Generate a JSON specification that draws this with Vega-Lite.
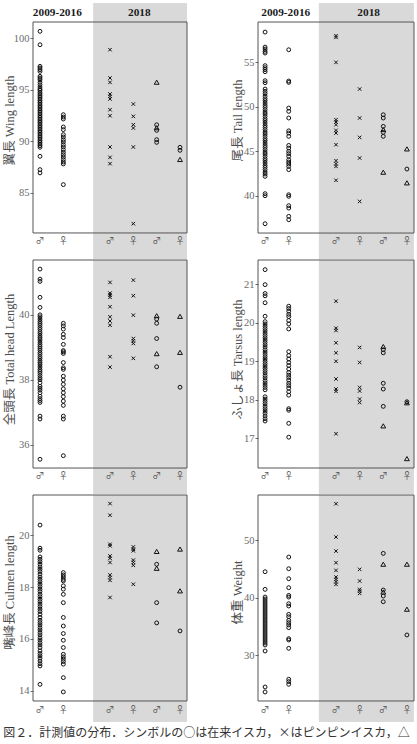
{
"$schema": "https://vega.github.io/schema/vega-lite/v6.json",
"padding": {"left": 3, "top": 3, "right": 0, "bottom": 0},
"title": {"text": "図２．計測値の分布．シンボルの○は在来イスカ，×はピンピンイスカ，△", "orient": "bottom", "anchor": "start", "baseline": "top", "offset": 6, "font": "Noto Sans CJK JP", "fontSize": 12, "fontWeight": "normal", "color": "#333"},
"spacing": 43,
"config": {
  "view": {"stroke": null},
  "axisY": {"domain": false, "grid": false, "tickSize": 3, "labelPadding": 1, "tickColor": "#6b6b6b", "labelColor": "#6b6b6b", "labelFont": "Liberation Serif", "labelFontSize": 10.5, "titleFont": "Liberation Serif, Noto Sans CJK JP", "titleFontSize": 12.5, "titleFontWeight": "normal", "titleColor": "#4d4d4d", "titleBaseline": "middle"}
},
"datasets": {
"labs": [{"g":"A♂","t":"♂"},{"g":"A♀","t":"♀"},{"g":"B♂","t":"♂"},{"g":"B♀","t":"♀"},{"g":"C♂","t":"♂"},{"g":"C♀","t":"♀"}],
"wing": [
{"g":"A♂","s":"o","v":100.65},{"g":"A♂","s":"o","v":99.35},{"g":"A♂","s":"o","v":97.26},{"g":"A♂","s":"o","v":97.1},{"g":"A♂","s":"o","v":96.94},{"g":"A♂","s":"o","v":96.77},{"g":"A♂","s":"o","v":96.29},{"g":"A♂","s":"o","v":96.13},{"g":"A♂","s":"o","v":95.97},{"g":"A♂","s":"o","v":95.71},{"g":"A♂","s":"o","v":95.48},{"g":"A♂","s":"o","v":95.26},{"g":"A♂","s":"o","v":95.06},{"g":"A♂","s":"o","v":94.94},{"g":"A♂","s":"o","v":94.74},{"g":"A♂","s":"o","v":94.58},{"g":"A♂","s":"o","v":94.42},{"g":"A♂","s":"o","v":94.26},{"g":"A♂","s":"o","v":94.1},{"g":"A♂","s":"o","v":93.94},{"g":"A♂","s":"o","v":93.77},{"g":"A♂","s":"o","v":93.61},{"g":"A♂","s":"o","v":93.45},{"g":"A♂","s":"o","v":93.29},{"g":"A♂","s":"o","v":93.13},{"g":"A♂","s":"o","v":92.97},{"g":"A♂","s":"o","v":92.81},{"g":"A♂","s":"o","v":92.65},{"g":"A♂","s":"o","v":92.48},{"g":"A♂","s":"o","v":92.32},{"g":"A♂","s":"o","v":92.16},{"g":"A♂","s":"o","v":92.0},{"g":"A♂","s":"o","v":91.84},{"g":"A♂","s":"o","v":91.68},{"g":"A♂","s":"o","v":91.52},{"g":"A♂","s":"o","v":91.35},{"g":"A♂","s":"o","v":91.19},{"g":"A♂","s":"o","v":91.03},{"g":"A♂","s":"o","v":90.87},{"g":"A♂","s":"o","v":90.71},{"g":"A♂","s":"o","v":90.55},{"g":"A♂","s":"o","v":90.39},{"g":"A♂","s":"o","v":90.23},{"g":"A♂","s":"o","v":90.06},{"g":"A♂","s":"o","v":89.9},{"g":"A♂","s":"o","v":89.74},{"g":"A♂","s":"o","v":89.58},{"g":"A♂","s":"o","v":89.42},{"g":"A♂","s":"o","v":88.55},{"g":"A♂","s":"o","v":87.26},{"g":"A♂","s":"o","v":86.94},
{"g":"A♀","s":"o","v":92.58},{"g":"A♀","s":"o","v":92.35},{"g":"A♀","s":"o","v":92.16},{"g":"A♀","s":"o","v":91.39},{"g":"A♀","s":"o","v":91.13},{"g":"A♀","s":"o","v":90.65},{"g":"A♀","s":"o","v":90.42},{"g":"A♀","s":"o","v":90.16},{"g":"A♀","s":"o","v":89.94},{"g":"A♀","s":"o","v":89.68},{"g":"A♀","s":"o","v":89.45},{"g":"A♀","s":"o","v":89.19},{"g":"A♀","s":"o","v":88.94},{"g":"A♀","s":"o","v":88.71},{"g":"A♀","s":"o","v":88.48},{"g":"A♀","s":"o","v":88.23},{"g":"A♀","s":"o","v":88.0},{"g":"A♀","s":"o","v":87.81},{"g":"A♀","s":"o","v":85.81},
{"g":"B♂","s":"x","v":98.87},{"g":"B♂","s":"x","v":96.13},{"g":"B♂","s":"x","v":95.71},{"g":"B♂","s":"x","v":94.58},{"g":"B♂","s":"x","v":94.35},{"g":"B♂","s":"x","v":94.1},{"g":"B♂","s":"x","v":93.06},{"g":"B♂","s":"x","v":92.48},{"g":"B♂","s":"x","v":89.45},{"g":"B♂","s":"x","v":88.45},{"g":"B♂","s":"x","v":87.84},
{"g":"B♀","s":"x","v":93.61},{"g":"B♀","s":"x","v":92.42},{"g":"B♀","s":"x","v":91.61},{"g":"B♀","s":"x","v":91.29},{"g":"B♀","s":"x","v":89.45},{"g":"B♀","s":"x","v":82.03},
{"g":"C♂","s":"t","v":95.71},{"g":"C♂","s":"o","v":91.6},{"g":"C♂","s":"t","v":91.3},{"g":"C♂","s":"o","v":91.06},{"g":"C♂","s":"o","v":90.16},{"g":"C♂","s":"o","v":89.9},
{"g":"C♀","s":"o","v":89.42},{"g":"C♀","s":"o","v":89.13},{"g":"C♀","s":"t","v":88.23}
],
"tail": [
{"g":"A♂","s":"o","v":58.41},{"g":"A♂","s":"o","v":56.72},{"g":"A♂","s":"o","v":56.5},{"g":"A♂","s":"o","v":56.24},{"g":"A♂","s":"o","v":56.05},{"g":"A♂","s":"o","v":54.63},{"g":"A♂","s":"o","v":54.4},{"g":"A♂","s":"o","v":54.18},{"g":"A♂","s":"o","v":53.95},{"g":"A♂","s":"o","v":52.94},{"g":"A♂","s":"o","v":52.71},{"g":"A♂","s":"o","v":52.0},{"g":"A♂","s":"o","v":51.74},{"g":"A♂","s":"o","v":51.48},{"g":"A♂","s":"o","v":51.18},{"g":"A♂","s":"o","v":50.91},{"g":"A♂","s":"o","v":50.69},{"g":"A♂","s":"o","v":50.43},{"g":"A♂","s":"o","v":50.16},{"g":"A♂","s":"o","v":49.94},{"g":"A♂","s":"o","v":49.68},{"g":"A♂","s":"o","v":49.41},{"g":"A♂","s":"o","v":49.19},{"g":"A♂","s":"o","v":48.93},{"g":"A♂","s":"o","v":48.66},{"g":"A♂","s":"o","v":48.44},{"g":"A♂","s":"o","v":48.18},{"g":"A♂","s":"o","v":47.91},{"g":"A♂","s":"o","v":47.69},{"g":"A♂","s":"o","v":47.43},{"g":"A♂","s":"o","v":47.16},{"g":"A♂","s":"o","v":46.94},{"g":"A♂","s":"o","v":46.68},{"g":"A♂","s":"o","v":46.41},{"g":"A♂","s":"o","v":46.19},{"g":"A♂","s":"o","v":45.93},{"g":"A♂","s":"o","v":45.66},{"g":"A♂","s":"o","v":45.44},{"g":"A♂","s":"o","v":45.18},{"g":"A♂","s":"o","v":44.91},{"g":"A♂","s":"o","v":44.69},{"g":"A♂","s":"o","v":44.43},{"g":"A♂","s":"o","v":44.16},{"g":"A♂","s":"o","v":43.94},{"g":"A♂","s":"o","v":43.68},{"g":"A♂","s":"o","v":43.41},{"g":"A♂","s":"o","v":43.19},{"g":"A♂","s":"o","v":42.93},{"g":"A♂","s":"o","v":42.66},{"g":"A♂","s":"o","v":42.44},{"g":"A♂","s":"o","v":42.18},{"g":"A♂","s":"o","v":40.23},{"g":"A♂","s":"o","v":40.0},{"g":"A♂","s":"o","v":36.85},
{"g":"A♀","s":"o","v":56.42},{"g":"A♀","s":"o","v":52.9},{"g":"A♀","s":"o","v":52.75},{"g":"A♀","s":"o","v":49.86},{"g":"A♀","s":"o","v":49.49},{"g":"A♀","s":"o","v":48.74},{"g":"A♀","s":"o","v":47.3},{"g":"A♀","s":"o","v":47.05},{"g":"A♀","s":"o","v":46.68},{"g":"A♀","s":"o","v":45.66},{"g":"A♀","s":"o","v":45.36},{"g":"A♀","s":"o","v":45.0},{"g":"A♀","s":"o","v":44.73},{"g":"A♀","s":"o","v":44.43},{"g":"A♀","s":"o","v":44.05},{"g":"A♀","s":"o","v":43.79},{"g":"A♀","s":"o","v":43.56},{"g":"A♀","s":"o","v":43.3},{"g":"A♀","s":"o","v":42.93},{"g":"A♀","s":"o","v":40.11},{"g":"A♀","s":"o","v":39.93},{"g":"A♀","s":"o","v":38.88},{"g":"A♀","s":"o","v":38.61},{"g":"A♀","s":"o","v":37.68},{"g":"A♀","s":"o","v":37.3},
{"g":"B♂","s":"x","v":58.0},{"g":"B♂","s":"x","v":57.81},{"g":"B♂","s":"x","v":55.0},{"g":"B♂","s":"x","v":48.55},{"g":"B♂","s":"x","v":48.29},{"g":"B♂","s":"x","v":47.99},{"g":"B♂","s":"x","v":47.35},{"g":"B♂","s":"x","v":47.05},{"g":"B♂","s":"x","v":45.74},{"g":"B♂","s":"x","v":43.94},{"g":"B♂","s":"x","v":43.6},{"g":"B♂","s":"x","v":43.3},{"g":"B♂","s":"x","v":41.73},
{"g":"B♀","s":"x","v":52.0},{"g":"B♀","s":"x","v":48.74},{"g":"B♀","s":"x","v":46.56},{"g":"B♀","s":"x","v":44.24},{"g":"B♀","s":"x","v":39.36},
{"g":"C♂","s":"o","v":49.11},{"g":"C♂","s":"o","v":48.74},{"g":"C♂","s":"o","v":47.8},{"g":"C♂","s":"t","v":47.43},{"g":"C♂","s":"o","v":47.13},{"g":"C♂","s":"o","v":46.68},{"g":"C♂","s":"t","v":42.63},
{"g":"C♀","s":"t","v":45.25},{"g":"C♀","s":"o","v":43.0},{"g":"C♀","s":"t","v":41.43}
],
"head": [
{"g":"A♂","s":"o","v":41.41},{"g":"A♂","s":"o","v":41.1},{"g":"A♂","s":"o","v":41.03},{"g":"A♂","s":"o","v":40.54},{"g":"A♂","s":"o","v":40.23},{"g":"A♂","s":"o","v":40.0},{"g":"A♂","s":"o","v":39.94},{"g":"A♂","s":"o","v":39.87},{"g":"A♂","s":"o","v":39.8},{"g":"A♂","s":"o","v":39.74},{"g":"A♂","s":"o","v":39.68},{"g":"A♂","s":"o","v":39.61},{"g":"A♂","s":"o","v":39.55},{"g":"A♂","s":"o","v":39.48},{"g":"A♂","s":"o","v":39.42},{"g":"A♂","s":"o","v":39.35},{"g":"A♂","s":"o","v":39.29},{"g":"A♂","s":"o","v":39.23},{"g":"A♂","s":"o","v":39.16},{"g":"A♂","s":"o","v":39.09},{"g":"A♂","s":"o","v":39.03},{"g":"A♂","s":"o","v":38.97},{"g":"A♂","s":"o","v":38.91},{"g":"A♂","s":"o","v":38.84},{"g":"A♂","s":"o","v":38.78},{"g":"A♂","s":"o","v":38.71},{"g":"A♂","s":"o","v":38.65},{"g":"A♂","s":"o","v":38.58},{"g":"A♂","s":"o","v":38.52},{"g":"A♂","s":"o","v":38.46},{"g":"A♂","s":"o","v":38.39},{"g":"A♂","s":"o","v":38.32},{"g":"A♂","s":"o","v":38.26},{"g":"A♂","s":"o","v":38.2},{"g":"A♂","s":"o","v":38.13},{"g":"A♂","s":"o","v":38.06},{"g":"A♂","s":"o","v":38.0},{"g":"A♂","s":"o","v":37.91},{"g":"A♂","s":"o","v":37.8},{"g":"A♂","s":"o","v":37.74},{"g":"A♂","s":"o","v":37.68},{"g":"A♂","s":"o","v":37.6},{"g":"A♂","s":"o","v":37.49},{"g":"A♂","s":"o","v":37.42},{"g":"A♂","s":"o","v":37.36},{"g":"A♂","s":"o","v":37.3},{"g":"A♂","s":"o","v":36.88},{"g":"A♂","s":"o","v":36.79},{"g":"A♂","s":"o","v":35.55},
{"g":"A♀","s":"o","v":39.74},{"g":"A♀","s":"o","v":39.66},{"g":"A♀","s":"o","v":39.56},{"g":"A♀","s":"o","v":39.4},{"g":"A♀","s":"o","v":39.3},{"g":"A♀","s":"o","v":39.09},{"g":"A♀","s":"o","v":38.9},{"g":"A♀","s":"o","v":38.86},{"g":"A♀","s":"o","v":38.81},{"g":"A♀","s":"o","v":38.53},{"g":"A♀","s":"o","v":38.37},{"g":"A♀","s":"o","v":38.32},{"g":"A♀","s":"o","v":38.11},{"g":"A♀","s":"o","v":37.99},{"g":"A♀","s":"o","v":37.86},{"g":"A♀","s":"o","v":37.72},{"g":"A♀","s":"o","v":37.6},{"g":"A♀","s":"o","v":37.48},{"g":"A♀","s":"o","v":37.34},{"g":"A♀","s":"o","v":37.21},{"g":"A♀","s":"o","v":36.88},{"g":"A♀","s":"o","v":36.79},{"g":"A♀","s":"o","v":35.66},
{"g":"B♂","s":"x","v":41.0},{"g":"B♂","s":"x","v":40.67},{"g":"B♂","s":"x","v":40.61},{"g":"B♂","s":"x","v":40.54},{"g":"B♂","s":"x","v":40.25},{"g":"B♂","s":"x","v":39.94},{"g":"B♂","s":"x","v":39.81},{"g":"B♂","s":"x","v":39.68},{"g":"B♂","s":"x","v":38.71},{"g":"B♂","s":"x","v":38.39},
{"g":"B♀","s":"x","v":41.07},{"g":"B♀","s":"x","v":40.59},{"g":"B♀","s":"x","v":39.99},{"g":"B♀","s":"x","v":39.27},{"g":"B♀","s":"x","v":39.2},{"g":"B♀","s":"x","v":39.12},{"g":"B♀","s":"x","v":38.66},
{"g":"C♂","s":"t","v":39.97},{"g":"C♂","s":"o","v":39.87},{"g":"C♂","s":"o","v":39.74},{"g":"C♂","s":"o","v":39.27},{"g":"C♂","s":"t","v":38.8},{"g":"C♂","s":"o","v":38.4},
{"g":"C♀","s":"t","v":39.95},{"g":"C♀","s":"t","v":38.84},{"g":"C♀","s":"o","v":37.77}
],
"tarsus": [
{"g":"A♂","s":"o","v":21.38},{"g":"A♂","s":"o","v":20.99},{"g":"A♂","s":"o","v":20.76},{"g":"A♂","s":"o","v":20.7},{"g":"A♂","s":"o","v":20.52},{"g":"A♂","s":"o","v":20.17},{"g":"A♂","s":"o","v":20.03},{"g":"A♂","s":"o","v":19.97},{"g":"A♂","s":"o","v":19.91},{"g":"A♂","s":"o","v":19.85},{"g":"A♂","s":"o","v":19.79},{"g":"A♂","s":"o","v":19.73},{"g":"A♂","s":"o","v":19.67},{"g":"A♂","s":"o","v":19.61},{"g":"A♂","s":"o","v":19.55},{"g":"A♂","s":"o","v":19.49},{"g":"A♂","s":"o","v":19.43},{"g":"A♂","s":"o","v":19.37},{"g":"A♂","s":"o","v":19.3},{"g":"A♂","s":"o","v":19.24},{"g":"A♂","s":"o","v":19.18},{"g":"A♂","s":"o","v":19.12},{"g":"A♂","s":"o","v":19.06},{"g":"A♂","s":"o","v":19.0},{"g":"A♂","s":"o","v":18.94},{"g":"A♂","s":"o","v":18.88},{"g":"A♂","s":"o","v":18.82},{"g":"A♂","s":"o","v":18.76},{"g":"A♂","s":"o","v":18.7},{"g":"A♂","s":"o","v":18.63},{"g":"A♂","s":"o","v":18.57},{"g":"A♂","s":"o","v":18.5},{"g":"A♂","s":"o","v":18.44},{"g":"A♂","s":"o","v":18.38},{"g":"A♂","s":"o","v":18.32},{"g":"A♂","s":"o","v":18.26},{"g":"A♂","s":"o","v":18.08},{"g":"A♂","s":"o","v":18.02},{"g":"A♂","s":"o","v":17.96},{"g":"A♂","s":"o","v":17.9},{"g":"A♂","s":"o","v":17.83},{"g":"A♂","s":"o","v":17.77},{"g":"A♂","s":"o","v":17.71},{"g":"A♂","s":"o","v":17.65},{"g":"A♂","s":"o","v":17.58},{"g":"A♂","s":"o","v":17.51},{"g":"A♂","s":"o","v":17.45},
{"g":"A♀","s":"o","v":20.43},{"g":"A♀","s":"o","v":20.37},{"g":"A♀","s":"o","v":20.3},{"g":"A♀","s":"o","v":20.22},{"g":"A♀","s":"o","v":20.16},{"g":"A♀","s":"o","v":20.06},{"g":"A♀","s":"o","v":19.97},{"g":"A♀","s":"o","v":19.84},{"g":"A♀","s":"o","v":19.25},{"g":"A♀","s":"o","v":19.15},{"g":"A♀","s":"o","v":19.06},{"g":"A♀","s":"o","v":18.97},{"g":"A♀","s":"o","v":18.89},{"g":"A♀","s":"o","v":18.8},{"g":"A♀","s":"o","v":18.71},{"g":"A♀","s":"o","v":18.64},{"g":"A♀","s":"o","v":18.58},{"g":"A♀","s":"o","v":18.51},{"g":"A♀","s":"o","v":18.43},{"g":"A♀","s":"o","v":18.37},{"g":"A♀","s":"o","v":18.3},{"g":"A♀","s":"o","v":18.21},{"g":"A♀","s":"o","v":18.12},{"g":"A♀","s":"o","v":17.77},{"g":"A♀","s":"o","v":17.73},{"g":"A♀","s":"o","v":17.39},{"g":"A♀","s":"o","v":17.03},
{"g":"B♂","s":"x","v":20.56},{"g":"B♂","s":"x","v":19.86},{"g":"B♂","s":"x","v":19.8},{"g":"B♂","s":"x","v":19.48},{"g":"B♂","s":"x","v":19.22},{"g":"B♂","s":"x","v":19.0},{"g":"B♂","s":"x","v":18.54},{"g":"B♂","s":"x","v":18.28},{"g":"B♂","s":"x","v":18.22},{"g":"B♂","s":"x","v":17.12},
{"g":"B♀","s":"x","v":19.36},{"g":"B♀","s":"x","v":18.97},{"g":"B♀","s":"x","v":18.32},{"g":"B♀","s":"x","v":18.23},{"g":"B♀","s":"x","v":18.02},{"g":"B♀","s":"x","v":17.93},
{"g":"C♂","s":"t","v":19.38},{"g":"C♂","s":"o","v":19.3},{"g":"C♂","s":"o","v":19.22},{"g":"C♂","s":"o","v":18.43},{"g":"C♂","s":"o","v":18.28},{"g":"C♂","s":"o","v":17.83},{"g":"C♂","s":"t","v":17.32},
{"g":"C♀","s":"o","v":17.95},{"g":"C♀","s":"t","v":17.92},{"g":"C♀","s":"t","v":16.47}
],
"culmen": [
{"g":"A♂","s":"o","v":20.39},{"g":"A♂","s":"o","v":19.5},{"g":"A♂","s":"o","v":19.42},{"g":"A♂","s":"o","v":19.16},{"g":"A♂","s":"o","v":19.07},{"g":"A♂","s":"o","v":18.98},{"g":"A♂","s":"o","v":18.88},{"g":"A♂","s":"o","v":18.78},{"g":"A♂","s":"o","v":18.69},{"g":"A♂","s":"o","v":18.6},{"g":"A♂","s":"o","v":18.5},{"g":"A♂","s":"o","v":18.39},{"g":"A♂","s":"o","v":18.3},{"g":"A♂","s":"o","v":18.21},{"g":"A♂","s":"o","v":18.11},{"g":"A♂","s":"o","v":18.02},{"g":"A♂","s":"o","v":17.92},{"g":"A♂","s":"o","v":17.83},{"g":"A♂","s":"o","v":17.72},{"g":"A♂","s":"o","v":17.63},{"g":"A♂","s":"o","v":17.53},{"g":"A♂","s":"o","v":17.44},{"g":"A♂","s":"o","v":17.34},{"g":"A♂","s":"o","v":17.25},{"g":"A♂","s":"o","v":17.15},{"g":"A♂","s":"o","v":17.06},{"g":"A♂","s":"o","v":16.95},{"g":"A♂","s":"o","v":16.83},{"g":"A♂","s":"o","v":16.72},{"g":"A♂","s":"o","v":16.63},{"g":"A♂","s":"o","v":16.54},{"g":"A♂","s":"o","v":16.44},{"g":"A♂","s":"o","v":16.35},{"g":"A♂","s":"o","v":16.25},{"g":"A♂","s":"o","v":16.16},{"g":"A♂","s":"o","v":16.05},{"g":"A♂","s":"o","v":15.96},{"g":"A♂","s":"o","v":15.86},{"g":"A♂","s":"o","v":15.77},{"g":"A♂","s":"o","v":15.67},{"g":"A♂","s":"o","v":15.54},{"g":"A♂","s":"o","v":15.44},{"g":"A♂","s":"o","v":15.35},{"g":"A♂","s":"o","v":15.26},{"g":"A♂","s":"o","v":15.15},{"g":"A♂","s":"o","v":15.05},{"g":"A♂","s":"o","v":14.96},{"g":"A♂","s":"o","v":14.25},
{"g":"A♀","s":"o","v":18.56},{"g":"A♀","s":"o","v":18.47},{"g":"A♀","s":"o","v":18.39},{"g":"A♀","s":"o","v":18.3},{"g":"A♀","s":"o","v":18.24},{"g":"A♀","s":"o","v":18.05},{"g":"A♀","s":"o","v":17.92},{"g":"A♀","s":"o","v":17.72},{"g":"A♀","s":"o","v":17.4},{"g":"A♀","s":"o","v":16.83},{"g":"A♀","s":"o","v":16.5},{"g":"A♀","s":"o","v":16.21},{"g":"A♀","s":"o","v":15.95},{"g":"A♀","s":"o","v":15.67},{"g":"A♀","s":"o","v":15.41},{"g":"A♀","s":"o","v":15.31},{"g":"A♀","s":"o","v":15.22},{"g":"A♀","s":"o","v":15.13},{"g":"A♀","s":"o","v":15.03},{"g":"A♀","s":"o","v":14.51},{"g":"A♀","s":"o","v":13.96},
{"g":"B♂","s":"x","v":21.22},{"g":"B♂","s":"x","v":20.77},{"g":"B♂","s":"x","v":19.65},{"g":"B♂","s":"x","v":19.59},{"g":"B♂","s":"x","v":19.2},{"g":"B♂","s":"x","v":19.11},{"g":"B♂","s":"x","v":18.95},{"g":"B♂","s":"x","v":18.47},{"g":"B♂","s":"x","v":18.37},{"g":"B♂","s":"x","v":18.26},{"g":"B♂","s":"x","v":17.6},
{"g":"B♀","s":"x","v":19.55},{"g":"B♀","s":"x","v":19.46},{"g":"B♀","s":"x","v":19.4},{"g":"B♀","s":"x","v":19.04},{"g":"B♀","s":"x","v":18.95},{"g":"B♀","s":"x","v":18.84},{"g":"B♀","s":"x","v":18.11},
{"g":"C♂","s":"t","v":19.37},{"g":"C♂","s":"o","v":18.88},{"g":"C♂","s":"t","v":18.72},{"g":"C♂","s":"o","v":17.4},{"g":"C♂","s":"o","v":16.62},
{"g":"C♀","s":"t","v":19.46},{"g":"C♀","s":"t","v":17.85},{"g":"C♀","s":"o","v":16.31}
],
"weight": [
{"g":"A♂","s":"o","v":44.55},{"g":"A♂","s":"o","v":41.48},{"g":"A♂","s":"o","v":40.14},{"g":"A♂","s":"o","v":39.8},{"g":"A♂","s":"o","v":39.45},{"g":"A♂","s":"o","v":39.1},{"g":"A♂","s":"o","v":38.75},{"g":"A♂","s":"o","v":38.41},{"g":"A♂","s":"o","v":38.06},{"g":"A♂","s":"o","v":37.71},{"g":"A♂","s":"o","v":37.36},{"g":"A♂","s":"o","v":37.01},{"g":"A♂","s":"o","v":36.67},{"g":"A♂","s":"o","v":36.32},{"g":"A♂","s":"o","v":35.97},{"g":"A♂","s":"o","v":35.62},{"g":"A♂","s":"o","v":35.28},{"g":"A♂","s":"o","v":34.93},{"g":"A♂","s":"o","v":34.58},{"g":"A♂","s":"o","v":34.23},{"g":"A♂","s":"o","v":33.88},{"g":"A♂","s":"o","v":33.54},{"g":"A♂","s":"o","v":33.19},{"g":"A♂","s":"o","v":32.84},{"g":"A♂","s":"o","v":32.49},{"g":"A♂","s":"o","v":32.14},{"g":"A♂","s":"o","v":31.8},{"g":"A♂","s":"o","v":30.75},{"g":"A♂","s":"o","v":24.49},{"g":"A♂","s":"o","v":23.62},
{"g":"A♀","s":"o","v":47.1},{"g":"A♀","s":"o","v":45.07},{"g":"A♀","s":"o","v":43.33},{"g":"A♀","s":"o","v":41.77},{"g":"A♀","s":"o","v":40.43},{"g":"A♀","s":"o","v":40.14},{"g":"A♀","s":"o","v":38.99},{"g":"A♀","s":"o","v":38.58},{"g":"A♀","s":"o","v":37.13},{"g":"A♀","s":"o","v":36.72},{"g":"A♀","s":"o","v":36.09},{"g":"A♀","s":"o","v":35.68},{"g":"A♀","s":"o","v":35.28},{"g":"A♀","s":"o","v":34.81},{"g":"A♀","s":"o","v":32.9},{"g":"A♀","s":"o","v":32.67},{"g":"A♀","s":"o","v":31.22},{"g":"A♀","s":"o","v":25.83},{"g":"A♀","s":"o","v":25.42},{"g":"A♀","s":"o","v":24.96},
{"g":"B♂","s":"x","v":56.38},{"g":"B♂","s":"x","v":50.58},{"g":"B♂","s":"x","v":48.14},{"g":"B♂","s":"x","v":46.12},{"g":"B♂","s":"x","v":44.78},{"g":"B♂","s":"x","v":43.62},{"g":"B♂","s":"x","v":43.22},{"g":"B♂","s":"x","v":42.81},{"g":"B♂","s":"x","v":42.35},
{"g":"B♀","s":"x","v":44.96},{"g":"B♀","s":"x","v":42.93},{"g":"B♀","s":"x","v":41.48},{"g":"B♀","s":"x","v":41.19},{"g":"B♀","s":"x","v":40.78},
{"g":"C♂","s":"o","v":47.74},{"g":"C♂","s":"t","v":45.83},{"g":"C♂","s":"o","v":41.36},{"g":"C♂","s":"t","v":41.0},{"g":"C♂","s":"o","v":40.32},{"g":"C♂","s":"o","v":39.33},
{"g":"C♀","s":"t","v":45.83},{"g":"C♀","s":"t","v":38.0},{"g":"C♀","s":"o","v":33.54}
]
},
"hconcat": [
{"spacing": 0, "vconcat": [
 {"width": 154, "height": 256, "layer": [
  {"data": {"values": [{}]}, "mark": {"type": "rect", "fill": "#d9d9d9", "xOffset": 6.5, "x2Offset": 7}, "encoding": {"x": {"datum": "gap", "type": "nominal", "scale": {"type": "point", "domain": ["A♂","A♀","gap","B♂","B♀","C♂","C♀"], "padding": 0.3}, "axis": null}, "x2": {"datum": "C♀"}}},
  {"data": {"values": [{}]}, "mark": {"type": "text", "font": "Liberation Serif", "fontWeight": "bold", "fontSize": 11.3, "color": "#1a1a1a", "dx": -6}, "encoding": {"x": {"datum": "A♀", "type": "nominal", "scale": {"type": "point", "domain": ["A♂","A♀","gap","B♂","B♀","C♂","C♀"], "padding": 0.3}, "axis": null}, "y": {"datum": 102.39, "type": "quantitative", "scale": {"domain": [78.61, 103.39], "nice": false, "zero": false}, "axis": {"values": [85, 90, 95, 100], "title": "翼長  Wing length", "titleX": -23.7, "titleY": 117}}, "text": {"value": "2009-2016"}}},
  {"data": {"values": [{}]}, "mark": {"type": "text", "font": "Liberation Serif", "fontWeight": "bold", "fontSize": 11.3, "color": "#1a1a1a", "dx": 6}, "encoding": {"x": {"datum": "B♀", "type": "nominal", "scale": {"type": "point", "domain": ["A♂","A♀","gap","B♂","B♀","C♂","C♀"], "padding": 0.3}, "axis": null}, "y": {"datum": 102.39, "type": "quantitative", "scale": {"domain": [78.61, 103.39], "nice": false, "zero": false}, "axis": {"values": [85, 90, 95, 100], "title": "翼長  Wing length", "titleX": -23.7, "titleY": 117}}, "text": {"value": "2018"}}},
  {"data": {"name": "wing"}, "mark": {"type": "point", "filled": false, "color": "#111", "strokeWidth": 1, "size": 15, "opacity": 1}, "encoding": {"x": {"field": "g", "type": "nominal", "scale": {"type": "point", "domain": ["A♂","A♀","gap","B♂","B♀","C♂","C♀"], "padding": 0.3}, "axis": null}, "y": {"field": "v", "type": "quantitative", "scale": {"domain": [78.61, 103.39], "nice": false, "zero": false}, "axis": {"values": [85, 90, 95, 100], "title": "翼長  Wing length", "titleX": -23.7, "titleY": 117}}, "shape": {"field": "s", "type": "nominal", "scale": {"domain": ["o","x","t"], "range": ["circle", "M-0.9,-0.9L0.9,0.9M-0.9,0.9L0.9,-0.9", "M0,-1.15L1.25,1L-1.25,1Z"]}, "legend": null}}},
  {"data": {"values": [{}]}, "mark": {"type": "rect", "filled": false, "stroke": "#555", "strokeWidth": 1}, "encoding": {"y": {"datum": 101.55, "type": "quantitative", "scale": {"domain": [78.61, 103.39], "nice": false, "zero": false}, "axis": {"values": [85, 90, 95, 100], "title": "翼長  Wing length", "titleX": -23.7, "titleY": 117}}, "y2": {"datum": 81.13}}},
  {"data": {"name": "labs"}, "mark": {"type": "text", "font": "Noto Sans CJK JP", "fontSize": 9, "color": "#555"}, "encoding": {"x": {"field": "g", "type": "nominal", "scale": {"type": "point", "domain": ["A♂","A♀","gap","B♂","B♀","C♂","C♀"], "padding": 0.3}, "axis": null}, "y": {"datum": 80.36, "type": "quantitative", "scale": {"domain": [78.61, 103.39], "nice": false, "zero": false}, "axis": {"values": [85, 90, 95, 100], "title": "翼長  Wing length", "titleX": -23.7, "titleY": 117}}, "text": {"field": "t"}}}
 ]},
 {"width": 154, "height": 234, "layer": [
  {"data": {"values": [{}]}, "mark": {"type": "rect", "fill": "#d9d9d9", "xOffset": 6.5, "x2Offset": 7}, "encoding": {"x": {"datum": "gap", "type": "nominal", "scale": {"type": "point", "domain": ["A♂","A♀","gap","B♂","B♀","C♂","C♀"], "padding": 0.3}, "axis": null}, "x2": {"datum": "C♀"}}},
  {"data": {"name": "head"}, "mark": {"type": "point", "filled": false, "color": "#111", "strokeWidth": 1, "size": 15, "opacity": 1}, "encoding": {"x": {"field": "g", "type": "nominal", "scale": {"type": "point", "domain": ["A♂","A♀","gap","B♂","B♀","C♂","C♀"], "padding": 0.3}, "axis": null}, "y": {"field": "v", "type": "quantitative", "scale": {"domain": [34.48, 41.69], "nice": false, "zero": false}, "axis": {"values": [36, 38, 40], "title": "全頭長  Total head Length", "titleX": -23.7, "titleY": 99}}, "shape": {"field": "s", "type": "nominal", "scale": {"domain": ["o","x","t"], "range": ["circle", "M-0.9,-0.9L0.9,0.9M-0.9,0.9L0.9,-0.9", "M0,-1.15L1.25,1L-1.25,1Z"]}, "legend": null}}},
  {"data": {"values": [{}]}, "mark": {"type": "rect", "filled": false, "stroke": "#555", "strokeWidth": 1}, "encoding": {"y": {"datum": 41.69, "type": "quantitative", "scale": {"domain": [34.48, 41.69], "nice": false, "zero": false}, "axis": {"values": [36, 38, 40], "title": "全頭長  Total head Length", "titleX": -23.7, "titleY": 99}}, "y2": {"datum": 35.28}}},
  {"data": {"name": "labs"}, "mark": {"type": "text", "font": "Noto Sans CJK JP", "fontSize": 9, "color": "#555"}, "encoding": {"x": {"field": "g", "type": "nominal", "scale": {"type": "point", "domain": ["A♂","A♀","gap","B♂","B♀","C♂","C♀"], "padding": 0.3}, "axis": null}, "y": {"datum": 35.03, "type": "quantitative", "scale": {"domain": [34.48, 41.69], "nice": false, "zero": false}, "axis": {"values": [36, 38, 40], "title": "全頭長  Total head Length", "titleX": -23.7, "titleY": 99}}, "text": {"field": "t"}}}
 ]},
 {"width": 154, "height": 227, "layer": [
  {"data": {"values": [{}]}, "mark": {"type": "rect", "fill": "#d9d9d9", "xOffset": 6.5, "x2Offset": 7}, "encoding": {"x": {"datum": "gap", "type": "nominal", "scale": {"type": "point", "domain": ["A♂","A♀","gap","B♂","B♀","C♂","C♀"], "padding": 0.3}, "axis": null}, "x2": {"datum": "C♀"}}},
  {"data": {"name": "culmen"}, "mark": {"type": "point", "filled": false, "color": "#111", "strokeWidth": 1, "size": 15, "opacity": 1}, "encoding": {"x": {"field": "g", "type": "nominal", "scale": {"type": "point", "domain": ["A♂","A♀","gap","B♂","B♀","C♂","C♀"], "padding": 0.3}, "axis": null}, "y": {"field": "v", "type": "quantitative", "scale": {"domain": [12.8, 21.55], "nice": false, "zero": false}, "axis": {"values": [14, 16, 18, 20], "title": "嘴峰長  Culmen length", "titleX": -23.7, "titleY": 97}}, "shape": {"field": "s", "type": "nominal", "scale": {"domain": ["o","x","t"], "range": ["circle", "M-0.9,-0.9L0.9,0.9M-0.9,0.9L0.9,-0.9", "M0,-1.15L1.25,1L-1.25,1Z"]}, "legend": null}}},
  {"data": {"values": [{}]}, "mark": {"type": "rect", "filled": false, "stroke": "#555", "strokeWidth": 1}, "encoding": {"y": {"datum": 21.55, "type": "quantitative", "scale": {"domain": [12.8, 21.55], "nice": false, "zero": false}, "axis": {"values": [14, 16, 18, 20], "title": "嘴峰長  Culmen length", "titleX": -23.7, "titleY": 97}}, "y2": {"datum": 13.61}}},
  {"data": {"name": "labs"}, "mark": {"type": "text", "font": "Noto Sans CJK JP", "fontSize": 9, "color": "#555"}, "encoding": {"x": {"field": "g", "type": "nominal", "scale": {"type": "point", "domain": ["A♂","A♀","gap","B♂","B♀","C♂","C♀"], "padding": 0.3}, "axis": null}, "y": {"datum": 13.27, "type": "quantitative", "scale": {"domain": [12.8, 21.55], "nice": false, "zero": false}, "axis": {"values": [14, 16, 18, 20], "title": "嘴峰長  Culmen length", "titleX": -23.7, "titleY": 97}}, "text": {"field": "t"}}}
 ]}
]},
{"spacing": 0, "vconcat": [
 {"width": 156, "height": 256, "layer": [
  {"data": {"values": [{}]}, "mark": {"type": "rect", "fill": "#d9d9d9", "xOffset": 6.5, "x2Offset": 7}, "encoding": {"x": {"datum": "gap", "type": "nominal", "scale": {"type": "point", "domain": ["A♂","A♀","gap","B♂","B♀","C♂","C♀"], "padding": 0.3}, "axis": null}, "x2": {"datum": "C♀"}}},
  {"data": {"values": [{}]}, "mark": {"type": "text", "font": "Liberation Serif", "fontWeight": "bold", "fontSize": 11.3, "color": "#1a1a1a", "dx": -3}, "encoding": {"x": {"datum": "A♀", "type": "nominal", "scale": {"type": "point", "domain": ["A♂","A♀","gap","B♂","B♀","C♂","C♀"], "padding": 0.3}, "axis": null}, "y": {"datum": 60.52, "type": "quantitative", "scale": {"domain": [32.88, 61.68], "nice": false, "zero": false}, "axis": {"values": [40, 45, 50, 55], "title": "尾長  Tail length", "titleX": -21, "titleY": 117}}, "text": {"value": "2009-2016"}}},
  {"data": {"values": [{}]}, "mark": {"type": "text", "font": "Liberation Serif", "fontWeight": "bold", "fontSize": 11.3, "color": "#1a1a1a", "dx": 9}, "encoding": {"x": {"datum": "B♀", "type": "nominal", "scale": {"type": "point", "domain": ["A♂","A♀","gap","B♂","B♀","C♂","C♀"], "padding": 0.3}, "axis": null}, "y": {"datum": 60.52, "type": "quantitative", "scale": {"domain": [32.88, 61.68], "nice": false, "zero": false}, "axis": {"values": [40, 45, 50, 55], "title": "尾長  Tail length", "titleX": -21, "titleY": 117}}, "text": {"value": "2018"}}},
  {"data": {"name": "tail"}, "mark": {"type": "point", "filled": false, "color": "#111", "strokeWidth": 1, "size": 15, "opacity": 1}, "encoding": {"x": {"field": "g", "type": "nominal", "scale": {"type": "point", "domain": ["A♂","A♀","gap","B♂","B♀","C♂","C♀"], "padding": 0.3}, "axis": null}, "y": {"field": "v", "type": "quantitative", "scale": {"domain": [32.88, 61.68], "nice": false, "zero": false}, "axis": {"values": [40, 45, 50, 55], "title": "尾長  Tail length", "titleX": -21, "titleY": 117}}, "shape": {"field": "s", "type": "nominal", "scale": {"domain": ["o","x","t"], "range": ["circle", "M-0.9,-0.9L0.9,0.9M-0.9,0.9L0.9,-0.9", "M0,-1.15L1.25,1L-1.25,1Z"]}, "legend": null}}},
  {"data": {"values": [{}]}, "mark": {"type": "rect", "filled": false, "stroke": "#555", "strokeWidth": 1}, "encoding": {"y": {"datum": 59.54, "type": "quantitative", "scale": {"domain": [32.88, 61.68], "nice": false, "zero": false}, "axis": {"values": [40, 45, 50, 55], "title": "尾長  Tail length", "titleX": -21, "titleY": 117}}, "y2": {"datum": 35.8}}},
  {"data": {"name": "labs"}, "mark": {"type": "text", "font": "Noto Sans CJK JP", "fontSize": 9, "color": "#555"}, "encoding": {"x": {"field": "g", "type": "nominal", "scale": {"type": "point", "domain": ["A♂","A♀","gap","B♂","B♀","C♂","C♀"], "padding": 0.3}, "axis": null}, "y": {"datum": 34.9, "type": "quantitative", "scale": {"domain": [32.88, 61.68], "nice": false, "zero": false}, "axis": {"values": [40, 45, 50, 55], "title": "尾長  Tail length", "titleX": -21, "titleY": 117}}, "text": {"field": "t"}}}
 ]},
 {"width": 156, "height": 234, "layer": [
  {"data": {"values": [{}]}, "mark": {"type": "rect", "fill": "#d9d9d9", "xOffset": 6.5, "x2Offset": 7}, "encoding": {"x": {"datum": "gap", "type": "nominal", "scale": {"type": "point", "domain": ["A♂","A♀","gap","B♂","B♀","C♂","C♀"], "padding": 0.3}, "axis": null}, "x2": {"datum": "C♀"}}},
  {"data": {"name": "tarsus"}, "mark": {"type": "point", "filled": false, "color": "#111", "strokeWidth": 1, "size": 15, "opacity": 1}, "encoding": {"x": {"field": "g", "type": "nominal", "scale": {"type": "point", "domain": ["A♂","A♀","gap","B♂","B♀","C♂","C♀"], "padding": 0.3}, "axis": null}, "y": {"field": "v", "type": "quantitative", "scale": {"domain": [15.555, 21.63], "nice": false, "zero": false}, "axis": {"values": [17, 18, 19, 20, 21], "title": "ふしょ長  Tarsus length", "titleX": -21, "titleY": 99}}, "shape": {"field": "s", "type": "nominal", "scale": {"domain": ["o","x","t"], "range": ["circle", "M-0.9,-0.9L0.9,0.9M-0.9,0.9L0.9,-0.9", "M0,-1.15L1.25,1L-1.25,1Z"]}, "legend": null}}},
  {"data": {"values": [{}]}, "mark": {"type": "rect", "filled": false, "stroke": "#555", "strokeWidth": 1}, "encoding": {"y": {"datum": 21.63, "type": "quantitative", "scale": {"domain": [15.555, 21.63], "nice": false, "zero": false}, "axis": {"values": [17, 18, 19, 20, 21], "title": "ふしょ長  Tarsus length", "titleX": -21, "titleY": 99}}, "y2": {"datum": 16.23}}},
  {"data": {"name": "labs"}, "mark": {"type": "text", "font": "Noto Sans CJK JP", "fontSize": 9, "color": "#555"}, "encoding": {"x": {"field": "g", "type": "nominal", "scale": {"type": "point", "domain": ["A♂","A♀","gap","B♂","B♀","C♂","C♀"], "padding": 0.3}, "axis": null}, "y": {"datum": 16.02, "type": "quantitative", "scale": {"domain": [15.555, 21.63], "nice": false, "zero": false}, "axis": {"values": [17, 18, 19, 20, 21], "title": "ふしょ長  Tarsus length", "titleX": -21, "titleY": 99}}, "text": {"field": "t"}}}
 ]},
 {"width": 156, "height": 227, "layer": [
  {"data": {"values": [{}]}, "mark": {"type": "rect", "fill": "#d9d9d9", "xOffset": 6.5, "x2Offset": 7}, "encoding": {"x": {"datum": "gap", "type": "nominal", "scale": {"type": "point", "domain": ["A♂","A♀","gap","B♂","B♀","C♂","C♀"], "padding": 0.3}, "axis": null}, "x2": {"datum": "C♀"}}},
  {"data": {"name": "weight"}, "mark": {"type": "point", "filled": false, "color": "#111", "strokeWidth": 1, "size": 15, "opacity": 1}, "encoding": {"x": {"field": "g", "type": "nominal", "scale": {"type": "point", "domain": ["A♂","A♀","gap","B♂","B♀","C♂","C♀"], "padding": 0.3}, "axis": null}, "y": {"field": "v", "type": "quantitative", "scale": {"domain": [18.395, 57.9], "nice": false, "zero": false}, "axis": {"values": [30, 40, 50], "title": "体重  Weight", "titleX": -21, "titleY": 97}}, "shape": {"field": "s", "type": "nominal", "scale": {"domain": ["o","x","t"], "range": ["circle", "M-0.9,-0.9L0.9,0.9M-0.9,0.9L0.9,-0.9", "M0,-1.15L1.25,1L-1.25,1Z"]}, "legend": null}}},
  {"data": {"values": [{}]}, "mark": {"type": "rect", "filled": false, "stroke": "#555", "strokeWidth": 1}, "encoding": {"y": {"datum": 57.9, "type": "quantitative", "scale": {"domain": [18.395, 57.9], "nice": false, "zero": false}, "axis": {"values": [30, 40, 50], "title": "体重  Weight", "titleX": -21, "titleY": 97}}, "y2": {"datum": 22.05}}},
  {"data": {"name": "labs"}, "mark": {"type": "text", "font": "Noto Sans CJK JP", "fontSize": 9, "color": "#555"}, "encoding": {"x": {"field": "g", "type": "nominal", "scale": {"type": "point", "domain": ["A♂","A♀","gap","B♂","B♀","C♂","C♀"], "padding": 0.3}, "axis": null}, "y": {"datum": 20.52, "type": "quantitative", "scale": {"domain": [18.395, 57.9], "nice": false, "zero": false}, "axis": {"values": [30, 40, 50], "title": "体重  Weight", "titleX": -21, "titleY": 97}}, "text": {"field": "t"}}}
 ]}
]}
]
}
